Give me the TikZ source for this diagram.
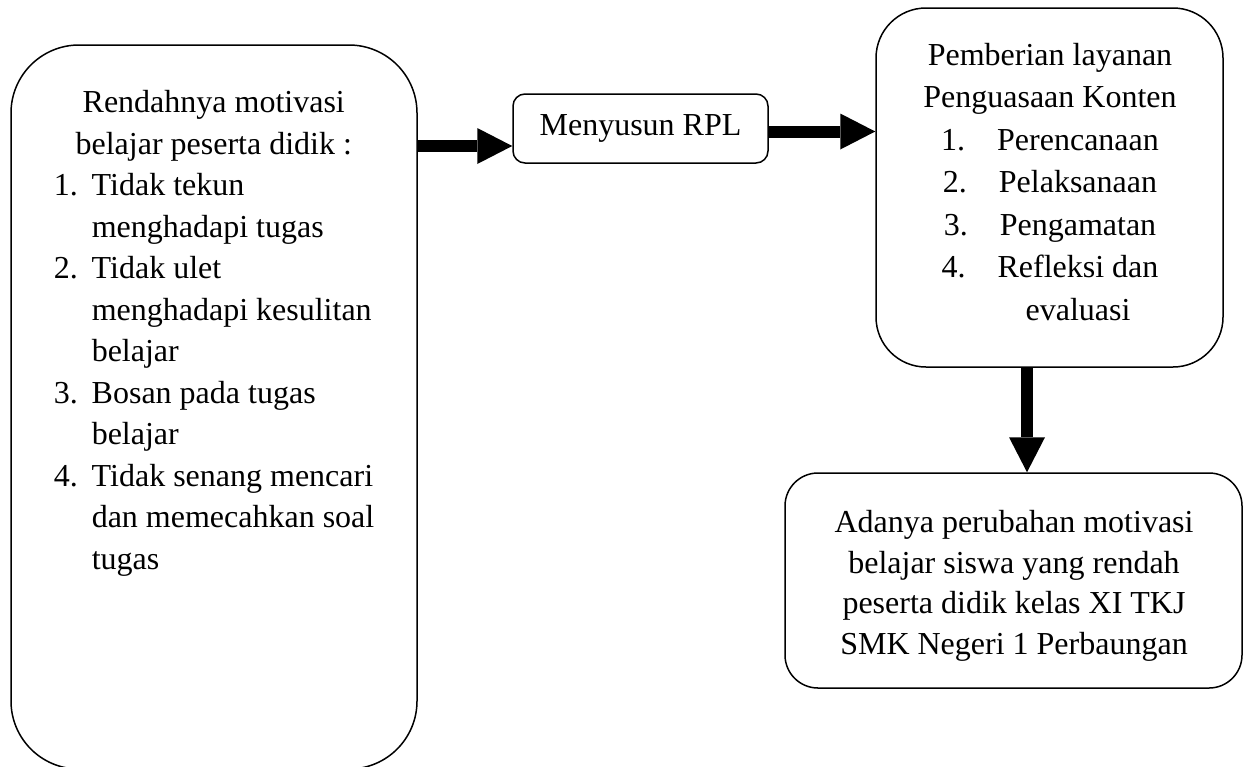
\documentclass[tikz,border=0pt]{standalone}
\usepackage{fontspec}
\setmainfont{Liberation Serif}
\usetikzlibrary{arrows.meta,positioning}

\begin{document}
\begin{tikzpicture}[x=1pt,y=-1pt,>={Triangle[length=35pt,width=36pt,line width=0pt]},
line width=1.5pt]

\tikzstyle{box}=[draw,inner sep=0pt]
\tikzstyle{isi}=[inner sep=0pt,font=\fontsize{32}{42.5}\selectfont]
\tikzstyle{panah}=[->,line width=12pt]

\useasboundingbox (0,0) rectangle (1246,766);

\node[box,rounded corners=68pt,minimum width=406pt,minimum height=724pt] (masalah) at (214,407) {};
\node[box,rounded corners=12pt,minimum width=255pt,minimum height=69pt,
      font=\fontsize{32}{38}\selectfont] (rpl) at (640.5,128.5) {Menyusun RPL};
\node[box,rounded corners=50pt,minimum width=347pt,minimum height=359pt] (layanan) at (1049.5,187.5) {};
\node[box,rounded corners=33pt,minimum width=457pt,minimum height=215pt] (hasil) at (1013.5,580.5) {};

% isi kotak (titik acuan = baris terakhir)
\node[isi,font=\fontsize{32}{41.5}\selectfont,align=left,anchor=base west] (teksmasalah) at (53,569)
  {\makebox[320pt]{Rendahnya motivasi}\\
   \makebox[320pt]{belajar peserta didik :}\\
   \makebox[38pt][l]{1.}Tidak tekun\\
   \hspace*{38pt}menghadapi tugas\\
   \makebox[38pt][l]{2.}Tidak ulet\\
   \hspace*{38pt}menghadapi kesulitan\\
   \hspace*{38pt}belajar\\
   \makebox[38pt][l]{3.}Bosan pada tugas\\
   \hspace*{38pt}belajar\\
   \makebox[38pt][l]{4.}Tidak senang mencari\\
   \hspace*{38pt}dan memecahkan soal\\
   \hspace*{38pt}tugas};
\node[isi,align=center,anchor=base] (tekslayanan) at (1050,320)
  {Pemberian layanan\\
   Penguasaan Konten\\
   1.\hspace{32pt}Perencanaan\\
   2.\hspace{32pt}Pelaksanaan\\
   3.\hspace{32pt}Pengamatan\\
   4.\hspace{32pt}Refleksi dan\\
   \hspace*{56pt}evaluasi};
\node[isi,font=\fontsize{32}{40.5}\selectfont,align=center,anchor=base] (tekshasil) at (1014,654)
  {Adanya perubahan motivasi\\
   belajar siswa yang rendah\\
   peserta didik kelas XI TKJ\\
   SMK Negeri 1 Perbaungan};

\coordinate (p1) at ([yshift=-17.5pt]rpl.west);
\coordinate (p2) at ([yshift=-3pt]rpl.east);
\coordinate (p3) at ([xshift=-22.5pt]layanan.south);

\path (p1 -| masalah.east) edge[panah] (p1)
      (p2) edge[panah] (p2 -| layanan.west)
      (p3) edge[panah] (p3 |- hasil.north);
\end{tikzpicture}
\end{document}
